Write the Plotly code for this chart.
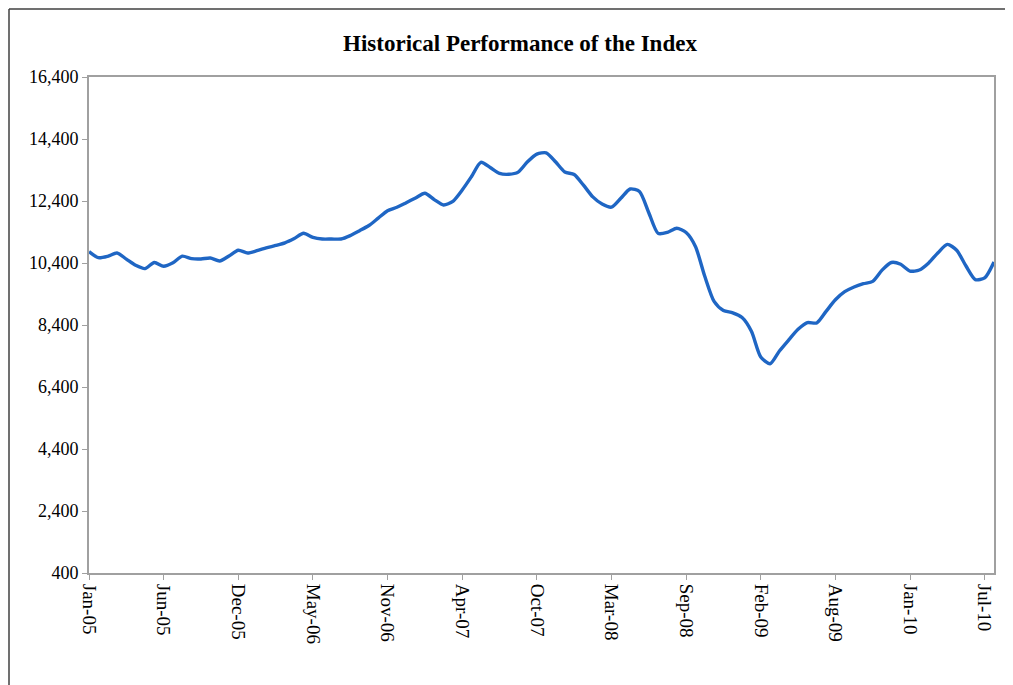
import pandas as pd
import plotly.graph_objects as go

start_date = "2005-01-07"
index_values = [
    10765, 10571, 10616, 10723, 10526, 10326, 10220, 10416, 10294, 10407,
    10620, 10539, 10529, 10561, 10465, 10626, 10810, 10723, 10797, 10887,
    10965, 11052, 11190, 11358, 11226, 11174, 11174, 11174, 11284, 11442,
    11610, 11848, 12087, 12197, 12345, 12497, 12648, 12445, 12271, 12390,
    12755, 13190, 13648, 13481, 13290, 13261, 13332, 13665, 13913, 13955,
    13665, 13336, 13255, 12910, 12532, 12300, 12200, 12487, 12787, 12707,
    12023, 11355, 11387, 11519, 11384, 10933, 9971, 9161, 8868, 8794,
    8642, 8200, 7370, 7150, 7561, 7919, 8261, 8478, 8465, 8839,
    9213, 9474, 9626, 9732, 9807, 10171, 10416, 10358, 10139, 10174,
    10403, 10732, 11000, 10810, 10303, 9865, 9920, 10432,
]
tick_labels = ["Jan-05", "Jun-05", "Dec-05", "May-06", "Nov-06", "Apr-07",
               "Oct-07", "Mar-08", "Sep-08", "Feb-09", "Aug-09", "Jan-10", "Jul-10"]
y_ticks = [400, 2400, 4400, 6400, 8400, 10400, 12400, 14400, 16400]

dates = pd.date_range(start_date, periods=len(index_values), freq="21D")
tick_dates = pd.date_range(start_date, periods=len(tick_labels), freq="168D")

W, H = 1005, 677          # page has an 8px body margin
L, R, T, B = 81, 19, 69, 112
PW, PH = W - L - R, H - T - B

fig = go.Figure()
fig.add_trace(go.Scatter(
    x=dates, y=index_values, mode="lines",
    line=dict(color="#1F66C4", width=3.4, shape="spline", smoothing=0.7),
    hoverinfo="x+y", showlegend=False,
))

serif = "Liberation Serif, Times New Roman, serif"
fig.update_layout(
    width=W, height=H,
    margin=dict(l=L, r=R, t=T, b=B),
    paper_bgcolor="white", plot_bgcolor="white",
    title=dict(text="<b>Historical Performance of the Index</b>",
               x=512 / W, xref="container", xanchor="center",
               y=1 - 35 / H, yref="container", yanchor="middle",
               font=dict(family=serif, size=23, color="black")),
    font=dict(family=serif, color="black"),
)
fig.update_xaxes(
    type="date", range=[dates[0], dates[-1]],
    tickmode="array", tickvals=tick_dates, ticktext=tick_labels,
    tickangle=90, tickfont=dict(family=serif, size=19, color="black"),
    showgrid=False, zeroline=False,
    showline=True, linecolor="#A0A0A0", linewidth=2, mirror=True,
    ticks="outside", ticklen=5, tickcolor="#A0A0A0",
)
fig.update_yaxes(
    range=[400, 16400], tickmode="array", tickvals=y_ticks,
    ticktext=[f"{v:,}" for v in y_ticks],
    tickfont=dict(family=serif, size=18, color="black"),
    showgrid=False, zeroline=False,
    showline=True, linecolor="#A0A0A0", linewidth=2, mirror=True,
    ticks="outside", ticklen=5, tickcolor="#A0A0A0",
)

# outer frame lines (top and left) of the original image
fx0 = (1 - L) / PW
fy0 = (PH + T - 1) / PH
fig.add_shape(type="line", xref="paper", yref="paper",
              x0=fx0, x1=(W - L) / PW, y0=fy0, y1=fy0,
              line=dict(color="#404040", width=1.5))
fig.add_shape(type="line", xref="paper", yref="paper",
              x0=fx0, x1=fx0, y0=fy0, y1=-B / PH,
              line=dict(color="#404040", width=1.5))

fig.write_html("out.html")
